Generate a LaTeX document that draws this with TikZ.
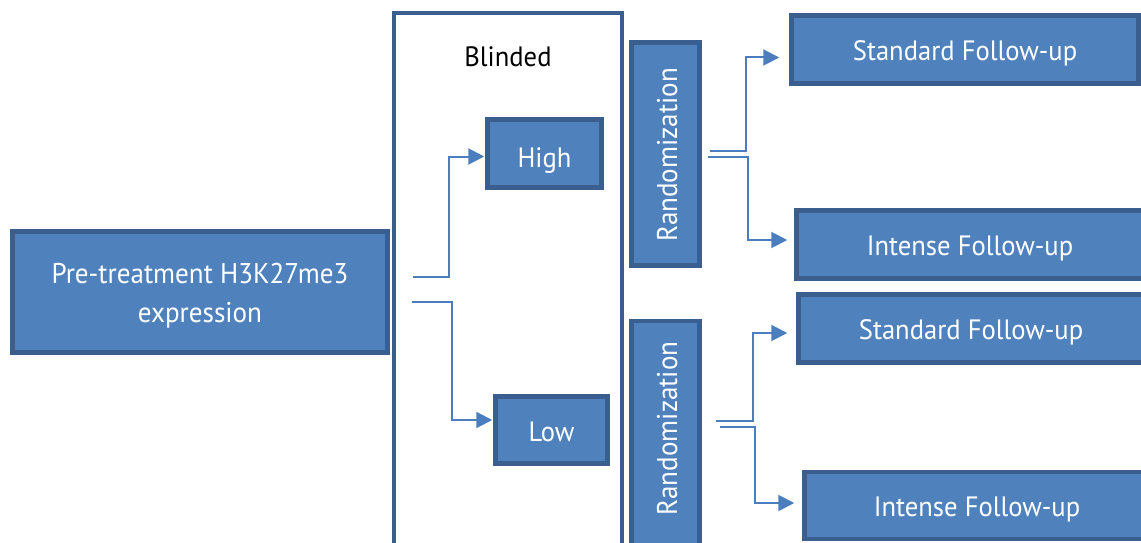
\documentclass[tikz,border=0pt]{standalone}
\usepackage{fontspec}
\setmainfont{PT Sans}
\newfontfamily\boxfont[FakeStretch=0.95]{PT Sans}
\usetikzlibrary{arrows.meta}
\definecolor{boxfill}{HTML}{4F81BD}
\definecolor{boxline}{HTML}{3A5F8F}
\definecolor{conncol}{HTML}{4A7EBF}
\begin{document}
\begin{tikzpicture}[x=1pt,y=-1pt,
  bluebox/.style={draw=boxline,fill=boxfill,line width=4.5pt,inner sep=0pt,text=white,
     font=\boxfont\fontsize{28}{39}\selectfont,align=center,text height=23pt,text depth=2pt},
  boxtext/.style={text=white,font=\boxfont\fontsize{28.5}{39}\selectfont,align=center,inner sep=0pt},
  framebox/.style={draw=boxline,fill=white,line width=4pt,inner sep=0pt},
  conn/.style={draw=conncol,line width=2pt,-{Triangle[length=16pt,width=16pt]}}]
\useasboundingbox (0,0) rectangle (1141,543);
\clip (0,0) rectangle (1141,543);
% blinded frame
\node[framebox,minimum width=228pt,minimum height=600pt,anchor=north] (blind) at (508,11) {};
\node[font=\boxfont\fontsize{28}{30}\selectfont,text=black,anchor=base,inner sep=0pt] (blindlbl) at (508,66.5) {Blinded};
% left box
\node[draw=boxline,fill=boxfill,line width=4.5pt,inner sep=0pt,minimum width=375pt,minimum height=121pt] (pre) at (200,292) {};
\node[boxtext] (pretext) at (200,296) {Pre-treatment H3K27me3\\expression};
% high / low
\node[bluebox,minimum width=114pt,minimum height=68pt,text height=27pt,text depth=0pt] (high) at (544.5,153.5) {High};
\node[bluebox,minimum width=112pt,minimum height=67pt,text height=24pt,text depth=1pt] (low) at (551.5,430) {Low};
% randomization
\node[draw=boxline,fill=boxfill,line width=4.5pt,inner sep=0pt,minimum width=68pt,minimum height=223pt] (r1) at (665.5,154) {};
\node[boxtext,rotate=90,text height=24pt,text depth=1pt] (r1t) at (665.5,155) {Randomization};
\node[draw=boxline,fill=boxfill,line width=4.5pt,inner sep=0pt,minimum width=68pt,minimum height=260pt,anchor=north] (r2) at (665.5,318.5) {};
\node[boxtext,rotate=90,text height=24pt,text depth=1pt] (r2t) at (665.5,428.5) {Randomization};
% follow-ups
\node[bluebox,minimum width=347pt,minimum height=68pt] (s1) at (965,49.5) {Standard Follow-up};
\node[bluebox,minimum width=347pt,minimum height=68pt] (i1) at (970,244.5) {Intense Follow-up};
\node[bluebox,minimum width=345pt,minimum height=68pt,text height=23.5pt,text depth=1.5pt] (s2) at (971,328.5) {Standard Follow-up};
\node[bluebox,minimum width=345pt,minimum height=67pt] (i2) at (977,505.5) {Intense Follow-up};
% connectors
\coordinate (a1) at (413,277);
\coordinate (a2) at (412,302);
\draw[conn] (a1) -- (449,277) |- ([xshift=-1pt,yshift=-3pt]high.west);
\draw[conn] (a2) -- (452,302) |- ([xshift=-1pt,yshift=10pt]low.west);
\coordinate (b1) at (710,151);
\coordinate (b2) at (708,157);
\draw[conn] (b1) -- (746,151) |- ([xshift=-10pt,yshift=-8pt]s1.west);
\draw[conn] (b2) -- (748,157) |- ([xshift=-7pt,yshift=4.5pt]i1.west);
\coordinate (c1) at (716,421);
\coordinate (c2) at (720,427);
\draw[conn] (c1) -- (753,421) |- ([xshift=-9pt,yshift=-4.5pt]s2.west);
\draw[conn] (c2) -- (755,427) |- ([xshift=-8pt,yshift=2.5pt]i2.west);
\end{tikzpicture}
\end{document}
